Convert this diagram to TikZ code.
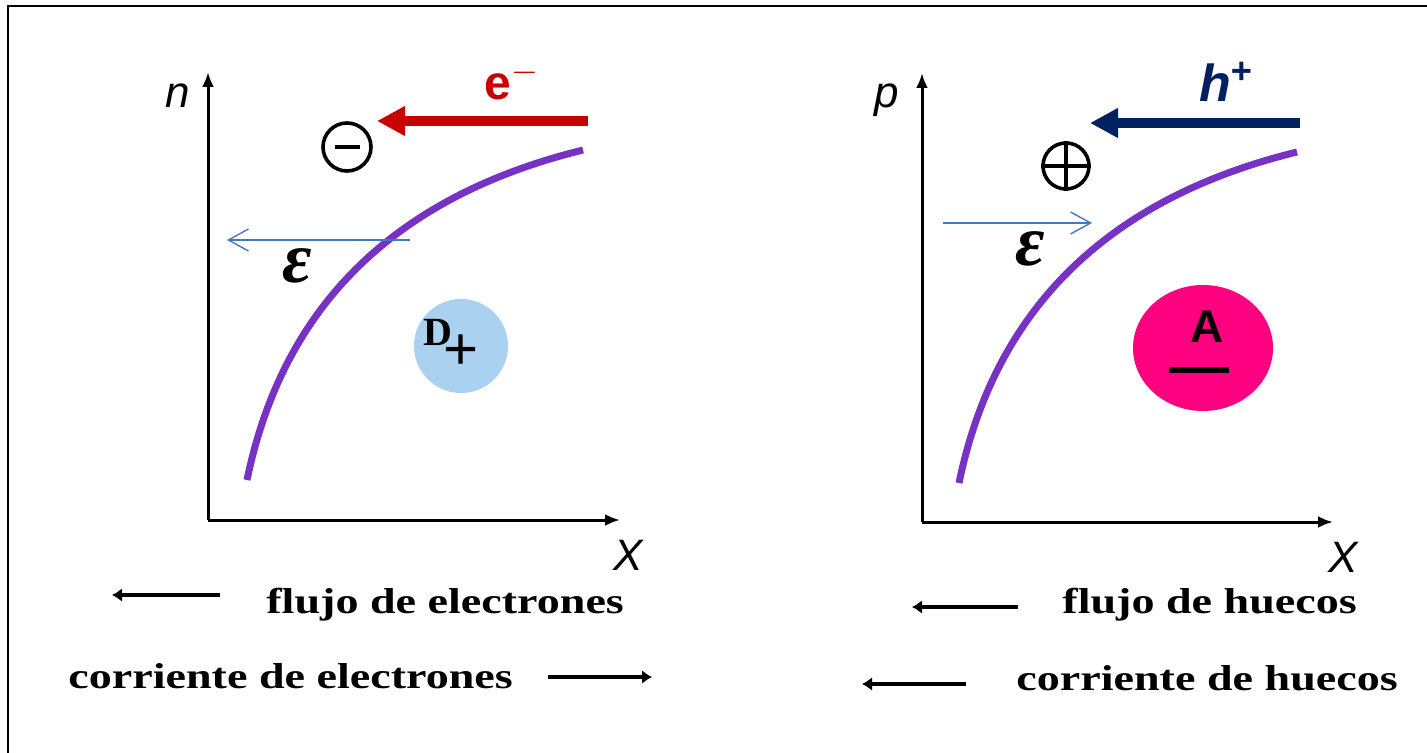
\documentclass[tikz,border=0pt]{standalone}
\usepackage{fontspec}
\setmainfont{Liberation Serif}
\setsansfont{Liberation Sans}
\newfontfamily\textoancho[FakeStretch=1.28]{Liberation Serif}
\usetikzlibrary{arrows.meta,shapes.geometric}
\definecolor{violeta}{RGB}{120,50,195}
\definecolor{rojo}{RGB}{200,0,0}
\definecolor{marino}{RGB}{0,32,96}
\definecolor{azulcampo}{RGB}{70,120,190}
\definecolor{celeste}{RGB}{170,210,240}
\definecolor{rosa}{RGB}{255,0,128}
\tikzset{
  eje/.style={line width=1.5pt, -{Latex[length=7.5pt,width=6pt]}},
  curva/.style={violeta, line width=3.5pt},
  campo/.style={azulcampo, line width=0.7pt, -{Straight Barb[length=10pt,width=11pt]}},
  flecha/.style={line width=2pt, -{Latex[length=5pt,width=7pt]}},
  portador/.style={line width=5pt, -{Triangle[length=14pt,width=14pt]}},
  signo/.style={circle, draw, line width=1.8pt, minimum size=24pt, inner sep=0pt},
  leyenda/.style={anchor=base west, inner sep=0pt, font=\textoancho\bfseries\fontsize{18}{20}\selectfont},
  etiqueta/.style={anchor=base, inner sep=0pt, font=\sffamily\itshape\fontsize{22}{24}\selectfont},
  epsilon/.style={inner sep=0pt, font=\bfseries\itshape\fontsize{36}{38}\selectfont},
}
\begin{document}
\begin{tikzpicture}[x=0.5pt, y=-0.5pt]
  \useasboundingbox (0,0) rectangle (1427,753);
  % marco
  \draw[line width=1pt] (1427,6) -- (8,6) -- (8,753);
  % grafico n(x)
  \coordinate (O1) at (208,520);
  \coordinate (Y1) at (208,72);
  \coordinate (X1) at (620,520);
  \draw[eje] (O1) -- (Y1);
  \draw[eje] (O1) -- (X1);
  \node[etiqueta] (n1) at (178,108) {n};
  \node[etiqueta] (x1) at (628,570) {X};
  \coordinate (c1a) at (247,480);
  \coordinate (c1b) at (583,150);
  \draw[curva] (c1a) .. controls (280,320) and (380,200) .. (c1b);
  \coordinate (e1) at (588,121);
  \coordinate (e2) at (377,121);
  \draw[portador, rojo] (e1) -- (e2);
  \node[anchor=base, text=rojo, font=\sffamily\bfseries\fontsize{24}{26}\selectfont] (eLabel) at (512,100) {e$^{-}$};
  \node[signo] (menos) at (347,147) {\rule{12.5pt}{2pt}};
  \coordinate (E1a) at (410,240);
  \coordinate (E1b) at (227,240);
  \draw[campo] (E1a) -- (E1b);
  \node[epsilon] (eps1) at (297,266) {ε};
  \node[circle, fill=celeste, minimum size=47pt, inner sep=0pt] (donor) at (461,346) {};
  \node[anchor=base, inner sep=0pt, font=\bfseries\fontsize{20}{22}\selectfont] (dLabel) at (438,345) {D};
  \node[inner sep=0pt, font=\sffamily\fontsize{30}{30}\selectfont] (dMas) at (461,352) {+};
  % grafico p(x)
  \coordinate (O2) at (922,522);
  \coordinate (Y2) at (922,73);
  \coordinate (X2) at (1333,522);
  \draw[eje] (O2) -- (Y2);
  \draw[eje] (O2) -- (X2);
  \node[etiqueta] (p2) at (887,108) {p};
  \node[etiqueta] (x2) at (1343,572) {X};
  \coordinate (c2a) at (959,483);
  \coordinate (c2b) at (1297,152);
  \draw[curva] (c2a) .. controls (992,323) and (1093,202) .. (c2b);
  \coordinate (h1) at (1300,123);
  \coordinate (h2) at (1090,123);
  \draw[portador, marino] (h1) -- (h2);
  \node[anchor=base, text=marino, font=\sffamily\bfseries\itshape\fontsize{26}{28}\selectfont] (hLabel) at (1226,102) {h\textsuperscript{+}};
  \node[signo, minimum size=23pt] (mas) at (1066,166) {};
  \draw[line width=1.8pt] (mas.north) -- (mas.south);
  \draw[line width=1.8pt] (mas.west) -- (mas.east);
  \coordinate (E2a) at (943,223);
  \coordinate (E2b) at (1092,223);
  \draw[campo] (E2a) -- (E2b);
  \node[epsilon] (eps2) at (1030,249) {ε};
  \node[ellipse, fill=rosa, minimum width=70pt, minimum height=63pt, inner sep=0pt] (aceptor) at (1203,348) {};
  \node[anchor=base, inner sep=0pt, font=\sffamily\bfseries\fontsize{23}{25}\selectfont] (aLabel) at (1207,343) {A};
  \node[inner sep=0pt] (aBarra) at (1199,370) {\rule{30pt}{3pt}};
  % leyendas
  \node[leyenda] (flujoE) at (266,613) {flujo de electrones};
  \node[leyenda] (corrE) at (68,688) {corriente de electrones};
  \node[leyenda] (flujoH) at (1062,613) {flujo de huecos};
  \node[leyenda] (corrH) at (1016,690) {corriente de huecos};
  \coordinate (f1a) at (220,595); \coordinate (f1b) at (112,595);
  \coordinate (k1a) at (548,677); \coordinate (k1b) at (652,677);
  \coordinate (f2a) at (1018,607); \coordinate (f2b) at (912,607);
  \coordinate (k2a) at (966,684); \coordinate (k2b) at (862,684);
  \draw[flecha] (f1a) -- (f1b);
  \draw[flecha] (k1a) -- (k1b);
  \draw[flecha] (f2a) -- (f2b);
  \draw[flecha] (k2a) -- (k2b);
\end{tikzpicture}
\end{document}
